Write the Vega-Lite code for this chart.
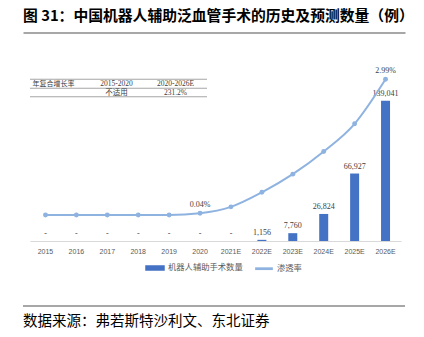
{
  "$schema": "https://vega.github.io/schema/vega-lite/v6.json",
  "width": 382,
  "height": 181,
  "autosize": {"type": "none"},
  "padding": {"left": 23, "top": 60, "right": 19, "bottom": 96},
  "background": "white",
  "config": {"view": {"stroke": null}},
  "datasets": {
    "main": [
      {"year": "2015", "count": 0, "rate": 0},
      {"year": "2016", "count": 0, "rate": 0},
      {"year": "2017", "count": 0, "rate": 0},
      {"year": "2018", "count": 0, "rate": 0},
      {"year": "2019", "count": 0, "rate": 0},
      {"year": "2020", "count": 0, "rate": 0.0004},
      {"year": "2021E", "count": 0, "rate": 0.0018},
      {"year": "2022E", "count": 1156, "rate": 0.005},
      {"year": "2023E", "count": 7760, "rate": 0.009},
      {"year": "2024E", "count": 26824, "rate": 0.014},
      {"year": "2025E", "count": 66927, "rate": 0.0201},
      {"year": "2026E", "count": 139041, "rate": 0.0299}
    ],
    "cells": [
      {"row": "header", "col": "label", "text": "年复合增长率"},
      {"row": "header", "col": "p1", "text": "2015-2020"},
      {"row": "header", "col": "p2", "text": "2020-2026E"},
      {"row": "value", "col": "label", "text": ""},
      {"row": "value", "col": "p1", "text": "不适用"},
      {"row": "value", "col": "p2", "text": "231.2%"}
    ],
    "frame": [
      {"edge": "top", "text": "图 31：中国机器人辅助泛血管手术的历史及预测数量（例）"},
      {"edge": "bottom", "text": "数据来源：弗若斯特沙利文、东北证券"}
    ],
    "rules": [
      {"line": "upper"},
      {"line": "lower"}
    ]
  },
  "layer": [
    {
      "data": {"name": "rules"},
      "transform": [{"filter": "datum.line === 'lower'"}],
      "mark": {"type": "rule", "color": "#505050", "strokeWidth": 1.2},
      "encoding": {
        "y": {"field": "line", "type": "nominal", "sort": null, "scale": {"type": "point", "domain": ["upper", "lower"], "range": [-27.5, 246], "padding": 0}, "axis": null}
      }
    },
    {
      "data": {"name": "main"},
      "mark": {"type": "bar", "size": 9},
      "encoding": {
        "x": {
          "field": "year", "type": "nominal", "sort": null,
          "scale": {"domain": ["2015","2016","2017","2018","2019","2020","2021E","2022E","2023E","2024E","2025E","2026E"], "range": [7, 378], "paddingInner": 0, "paddingOuter": 0},
          "axis": {"title": null, "labelAngle": 0, "labelFont": "Liberation Sans", "labelFontSize": 7, "labelColor": "#595959", "ticks": false, "domainColor": "#d9d9d9", "domainWidth": 1, "labelPadding": 6, "grid": false}
        },
        "y": {"field": "count", "type": "quantitative", "scale": {"domain": [0, 179500]}, "axis": null},
        "color": {
          "datum": "机器人辅助手术数量", "type": "nominal",
          "scale": {"domain": ["机器人辅助手术数量", "渗透率"], "range": ["#4472C4", "#8FB3E0"]},
          "legend": {
            "title": null, "orient": "none", "legendX": 122, "legendY": 198, "direction": "horizontal",
            "labelFont": "Noto Sans CJK SC", "labelFontSize": 8.3, "labelColor": "#595959",
            "symbolSize": 324, "labelOffset": 3, "columnPadding": 9, "padding": 0,
            "encode": {"symbols": {"update": {
              "shape": {"signal": "datum.value === '渗透率' ? 'M-0.9,-0.07H0.9V0.07H-0.9Z' : 'M-1,-0.22H1V0.22H-1Z'"},
              "fill": {"scale": "color", "field": "value"},
              "stroke": {"value": "transparent"},
              "opacity": {"value": 1}
            }}}
          }
        }
      }
    },
    {
      "data": {"name": "main"},
      "mark": {"type": "text", "dy": -5, "baseline": "alphabetic", "font": "Liberation Serif", "fontSize": 8, "color": "#404040"},
      "encoding": {
        "x": {"field": "year", "type": "nominal", "sort": null,
          "scale": {"domain": ["2015","2016","2017","2018","2019","2020","2021E","2022E","2023E","2024E","2025E","2026E"], "range": [7, 378], "paddingInner": 0, "paddingOuter": 0}, "axis": null},
        "y": {"field": "count", "type": "quantitative", "scale": {"domain": [0, 179500]}, "axis": null},
        "text": {"condition": {"test": "datum.count === 0", "value": "-"}, "field": "count", "format": ","}
      }
    },
    {
      "data": {"name": "main"},
      "mark": {"type": "line", "interpolate": "monotone", "strokeWidth": 2, "point": {"filled": true, "size": 24}},
      "encoding": {
        "x": {"field": "year", "type": "nominal", "sort": null,
          "scale": {"domain": ["2015","2016","2017","2018","2019","2020","2021E","2022E","2023E","2024E","2025E","2026E"], "range": [7, 378], "paddingInner": 0, "paddingOuter": 0}, "axis": null},
        "y": {"field": "rate", "type": "quantitative", "scale": {"domain": [-0.00573, 0.034156], "zero": false, "nice": false}, "axis": null},
        "color": {"datum": "渗透率", "type": "nominal", "scale": {"domain": ["机器人辅助手术数量", "渗透率"], "range": ["#4472C4", "#8FB3E0"]}}
      }
    },
    {
      "data": {"name": "main"},
      "transform": [{"filter": {"field": "year", "oneOf": ["2020", "2026E"]}}],
      "mark": {"type": "text", "dy": -6, "baseline": "alphabetic", "font": "Liberation Serif", "fontSize": 8, "color": "#404040"},
      "encoding": {
        "x": {"field": "year", "type": "nominal", "sort": null,
          "scale": {"domain": ["2015","2016","2017","2018","2019","2020","2021E","2022E","2023E","2024E","2025E","2026E"], "range": [7, 378], "paddingInner": 0, "paddingOuter": 0}, "axis": null},
        "y": {"field": "rate", "type": "quantitative", "scale": {"domain": [-0.00573, 0.034156], "zero": false, "nice": false}, "axis": null},
        "text": {"field": "rate", "format": ".2%"}
      }
    },
    {
      "data": {"name": "cells"},
      "mark": {"type": "tick", "orient": "horizontal", "size": 59, "thickness": 1, "color": "#808080", "yOffset": -5},
      "encoding": {
        "x": {"field": "col", "type": "nominal", "sort": null, "scale": {"domain": ["label", "p1", "p2"], "range": [7, 184], "paddingInner": 0, "paddingOuter": 0}, "axis": null},
        "y": {"field": "row", "type": "nominal", "sort": null, "scale": {"type": "point", "domain": ["header", "value"], "range": [24.3, 33.3], "padding": 0}, "axis": null}
      }
    },
    {
      "data": {"name": "cells"},
      "transform": [{"filter": "datum.row === 'value'"}],
      "mark": {"type": "tick", "orient": "horizontal", "size": 59, "thickness": 1, "color": "#808080", "yOffset": 3.4},
      "encoding": {
        "x": {"field": "col", "type": "nominal", "sort": null, "scale": {"domain": ["label", "p1", "p2"], "range": [7, 184], "paddingInner": 0, "paddingOuter": 0}, "axis": null},
        "y": {"field": "row", "type": "nominal", "sort": null, "scale": {"type": "point", "domain": ["header", "value"], "range": [24.3, 33.3], "padding": 0}, "axis": null}
      }
    },
    {
      "data": {"name": "cells"},
      "transform": [{"filter": "datum.col === 'label'"}],
      "mark": {"type": "text", "align": "left", "baseline": "middle", "dx": -27, "font": "Liberation Serif, Noto Sans CJK SC", "fontSize": 7, "color": "#404040"},
      "encoding": {
        "x": {"field": "col", "type": "nominal", "sort": null, "scale": {"domain": ["label", "p1", "p2"], "range": [7, 184], "paddingInner": 0, "paddingOuter": 0}, "axis": null},
        "y": {"field": "row", "type": "nominal", "sort": null, "scale": {"type": "point", "domain": ["header", "value"], "range": [24.3, 33.3], "padding": 0}, "axis": null},
        "text": {"field": "text"}
      }
    },
    {
      "data": {"name": "cells"},
      "transform": [{"filter": "datum.col !== 'label'"}],
      "mark": {"type": "text", "align": "center", "baseline": "middle", "dx": -2, "font": "Liberation Serif, Noto Sans CJK SC", "fontSize": 7.5, "color": "#404040"},
      "encoding": {
        "x": {"field": "col", "type": "nominal", "sort": null, "scale": {"domain": ["label", "p1", "p2"], "range": [7, 184], "paddingInner": 0, "paddingOuter": 0}, "axis": null},
        "y": {"field": "row", "type": "nominal", "sort": null, "scale": {"type": "point", "domain": ["header", "value"], "range": [24.3, 33.3], "padding": 0}, "axis": null},
        "text": {"field": "text"}
      }
    },
    {
      "data": {"name": "frame"},
      "transform": [{"filter": "datum.edge === 'top'"}],
      "mark": {"type": "text", "align": "left", "baseline": "middle", "dy": -16, "font": "Noto Sans CJK SC", "fontSize": 14.8, "fontWeight": "bold", "color": "#000000"},
      "encoding": {
        "x": {"datum": 0, "type": "quantitative", "scale": {"domain": [0, 1]},
          "axis": {"orient": "top", "offset": 27.5, "labels": false, "ticks": false, "grid": false, "title": null, "domain": true, "domainColor": "#505050", "domainWidth": 1.2}},
        "y": {"field": "edge", "type": "nominal", "sort": null, "scale": {"type": "point", "domain": ["top", "bottom"], "range": [-27.5, 246], "padding": 0}, "axis": null},
        "text": {"field": "text"}
      }
    },
    {
      "data": {"name": "frame"},
      "transform": [{"filter": "datum.edge === 'bottom'"}],
      "mark": {"type": "text", "align": "left", "baseline": "middle", "dy": 15.5, "font": "Noto Sans CJK SC", "fontSize": 14.5, "color": "#000000"},
      "encoding": {
        "x": {"datum": 0, "type": "quantitative", "scale": {"domain": [0, 1]}, "axis": null},
        "y": {"field": "edge", "type": "nominal", "sort": null, "scale": {"type": "point", "domain": ["top", "bottom"], "range": [-27.5, 246], "padding": 0}, "axis": null},
        "text": {"field": "text"}
      }
    }
  ],
  "resolve": {"scale": {"x": "independent", "y": "independent"}}
}
